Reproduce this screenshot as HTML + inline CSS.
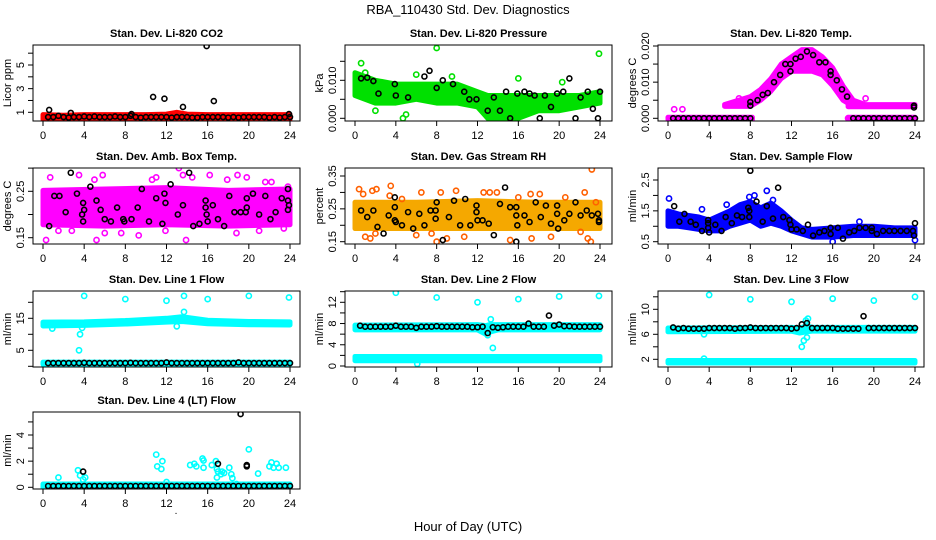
<!DOCTYPE html>
<html><head><meta charset="utf-8"><style>
html,body{margin:0;padding:0;background:#fff;}
svg{display:block;font-family:"Liberation Sans",Arial,sans-serif;}
</style></head><body>
<svg id="chart" width="936" height="540" viewBox="0 0 936 540" xmlns="http://www.w3.org/2000/svg">
<rect width="936" height="540" fill="#fff"/>
<text x="468" y="14" text-anchor="middle" font-size="13">RBA_110430  Std. Dev. Diagnostics</text>
<text x="468" y="531" text-anchor="middle" font-size="13">Hour of Day (UTC)</text>
<text x="176" y="514" text-anchor="middle" font-size="10">.</text>
<g id="panels"></g>
</svg>
<script>
const halfHours=[0.5,1,1.5,2,2.5,3,3.5,4,4.5,5,5.5,6,6.5,7,7.5,8,8.5,9,9.5,10,10.5,11,11.5,12,12.5,13,13.5,14,14.5,15,15.5,16,16.5,17,17.5,18,18.5,19,19.5,20,20.5,21,21.5,22,22.5,23,23.5,24];
const xTickHours=[0,4,8,12,16,20,24];

// Panel 1 CO2
const p1BandT=[0,2,4,6,8,10,12,13,14,16,18,20,22,24];
const p1BandLo=[0.4,0.4,0.4,0.4,0.4,0.4,0.4,0.4,0.4,0.4,0.4,0.4,0.4,0.4];
const p1BandHi=[0.8,0.75,0.8,0.8,0.8,0.8,0.85,1.0,0.85,0.8,0.8,0.8,0.8,0.8];
const p1BlackV=[0.6,0.6,0.7,0.6,0.55,0.6,0.6,0.65,0.6,0.65,0.6,0.6,0.6,0.65,0.6,0.6,0.7,0.6,0.55,0.6,0.6,0.6,0.6,0.6,0.55,0.6,0.6,0.6,0.55,0.55,0.6,0.6,0.6,0.6,0.6,0.55,0.6,0.55,0.6,0.6,0.6,0.6,0.6,0.55,0.6,0.55,0.6,0.6];
const p1OutBlackT=[0.6,2.7,8.6,10.7,11.8,13.6,15.9,16.6,23.9];
const p1OutBlackV=[1.2,0.95,0.85,2.3,2.15,1.45,6.6,1.95,0.85];

// Panel 2 Pressure
const p2BandT=[0,2,4,6,8,10,12,13,14,16,18,20,22,24];
const p2BandLo=[0.006,0.004,0.004,0.005,0.004,0.004,0.003,0.0,0.0,0.0,0.002,0.002,0.003,0.004];
const p2BandHi=[0.012,0.010,0.009,0.009,0.009,0.009,0.007,0.006,0.006,0.006,0.006,0.006,0.006,0.007];
const p2OutT=[0.6,8,23.9,16,2,4.7,5,0.3,1,20.3,9.5,6];
const p2OutV=[0.0145,0.0185,0.017,0.0105,0.002,0.0,0.001,0.011,0.012,0.0095,0.011,0.0115];
const p2BlackT=[0.6,1.2,1.8,2.3,3.9,4,5.2,6.8,7.3,8,8.6,9.6,10.7,11.2,11.9,13,13.6,14.2,14.8,15.2,15.9,16.6,17.1,17.6,18.1,18.6,19.2,19.8,20.4,21,21.6,22.1,22.8,23.3,23.8,24];
const p2BlackV=[0.0105,0.0107,0.0098,0.0065,0.009,0.006,0.0055,0.011,0.0125,0.008,0.010,0.009,0.007,0.005,0.005,0.002,0.0055,0.002,0.007,0.0,0.0065,0.007,0.0065,0.006,0.0,0.006,0.003,0.0065,0.007,0.0105,0.0,0.0055,0.007,0.0025,0.0,0.007];

// Panel 3 Li-820 Temp
const p3ArcT=[5.5,8,9,10,11,12,13,14,15,16,17,18,19];
const p3ArcLo=[0.0033,0.0033,0.005,0.0075,0.011,0.013,0.013,0.013,0.012,0.009,0.005,0.0033,0.0033];
const p3ArcHi=[0.0038,0.006,0.008,0.011,0.015,0.017,0.019,0.019,0.017,0.014,0.009,0.005,0.004];
const p3ZeroT=[0,8.2,17.5,24];
const p3ZeroLo=[-0.0003,-0.0003,-0.0003,-0.0003];
const p3ZeroHi=[0.0003,0.0003,0.0003,0.0003];
const p3ShelfT=[17.5,24];
const p3ShelfLo=[0.0032,0.0032];
const p3ShelfHi=[0.0038,0.0038];
const p3OutT=[0.6,1.4,6.9,19.2,17.5];
const p3OutV=[0.0025,0.0025,0.0055,0.0055,0.0];
const p3BlackT=[0.5,1,1.5,2,2.5,3,3.5,4,4.5,5,5.5,6,6.5,7,7.5,8,18,18.5,19,19.5,20,20.5,21,21.5,22,22.5,23,23.5,24,8,8,8.7,9.2,9.7,10.3,10.9,11.4,11.9,11.9,12.4,12.9,13.5,14.1,14.7,15.3,15.8,15.8,16.4,16.9,17.4,23.9,23.9];
const p3BlackV=[0,0,0,0,0,0,0,0,0,0,0,0,0,0,0,0,0,0,0,0,0,0,0,0,0,0,0,0,0,0.0045,0.0035,0.005,0.0065,0.007,0.010,0.012,0.015,0.015,0.013,0.0165,0.017,0.0185,0.0175,0.0155,0.0155,0.013,0.012,0.0105,0.008,0.006,0.0035,0.003];

// Panel 4 Amb Box Temp
const p4BandT=[0,6,12,18,24];
const p4BandLo=[0.178,0.175,0.178,0.175,0.178];
const p4BandHi=[0.252,0.255,0.258,0.252,0.255];
const p4OutT=[0.3,0.7,1.5,2.8,3.5,5.2,5.8,6.3,6,7.6,9.3,10.6,11,11.9,13.2,13.9,13.6,14.5,16.2,17.9,18.8,18.9,19.8,21,21.6,22.2,23.4,23.8,0.9,5];
const p4OutV=[0.145,0.28,0.165,0.165,0.285,0.145,0.285,0.31,0.16,0.16,0.155,0.275,0.28,0.165,0.30,0.145,0.285,0.28,0.285,0.275,0.16,0.285,0.28,0.165,0.27,0.27,0.17,0.26,0.22,0.275];
const p4BlackT=[0.6,1.1,1.6,2.2,2.7,3.3,3.9,3.8,4,3.9,4.6,5.2,5.6,6,6.6,7.2,7.8,7.9,8.6,9.2,9.6,10.3,11,11.6,11.8,11.9,12.4,13.1,13.6,14.2,14.6,15.2,15.8,15.8,15.9,16,16.5,17,17.6,18.1,18.6,19.2,19.7,19.8,19.8,20.4,21,21.6,22.1,22.6,23.2,23.8,23.8,23.9,23.8];
const p4BlackV=[0.175,0.24,0.24,0.205,0.29,0.245,0.225,0.2,0.21,0.185,0.26,0.23,0.21,0.19,0.185,0.215,0.19,0.185,0.19,0.215,0.255,0.185,0.235,0.18,0.245,0.225,0.265,0.2,0.22,0.29,0.175,0.18,0.23,0.215,0.2,0.185,0.22,0.19,0.175,0.24,0.205,0.205,0.205,0.215,0.235,0.245,0.2,0.24,0.19,0.205,0.235,0.255,0.23,0.22,0.21];

// Panel 5 Gas Stream RH
const p5BandT=[0,6,12,18,24];
const p5BandLo=[0.19,0.19,0.19,0.19,0.19];
const p5BandHi=[0.27,0.27,0.275,0.27,0.27];
const p5OutT=[0.4,0.8,1,1.5,1.7,2.1,2,3.5,3.4,4.6,6,6.5,7.5,8,8.4,9,9.9,10.7,12.6,13.2,13.9,15.2,16,17.3,17.2,18.1,19.2,20.6,22.1,22.5,22.8,23.2,23.1,23.6];
const p5OutV=[0.31,0.295,0.165,0.16,0.305,0.31,0.175,0.32,0.29,0.28,0.17,0.30,0.175,0.15,0.30,0.16,0.305,0.165,0.30,0.30,0.30,0.155,0.285,0.16,0.295,0.295,0.165,0.285,0.18,0.30,0.16,0.37,0.15,0.27];
const p5BlackT=[0.6,1.2,1.8,2.2,2.8,3.3,3.9,3.9,3.9,4,4.6,5.2,5.7,6.3,6.8,7.4,7.9,7.9,8,8.6,9.2,9.7,10.3,10.8,11.3,11.9,11.9,12,12.5,13.1,13.6,14.2,14.7,15.2,15.8,15.8,15.9,15.8,16.6,17.1,17.7,18.2,18.7,19.2,19.8,19.8,19.9,20.5,21,21.6,22.1,22.7,23.2,23.8,23.9,23.9];
const p5BlackV=[0.245,0.225,0.245,0.195,0.175,0.23,0.285,0.255,0.215,0.21,0.2,0.24,0.19,0.235,0.2,0.245,0.245,0.22,0.27,0.155,0.225,0.275,0.2,0.28,0.2,0.26,0.24,0.215,0.215,0.205,0.17,0.265,0.315,0.255,0.255,0.23,0.2,0.15,0.23,0.21,0.27,0.225,0.26,0.205,0.26,0.235,0.19,0.215,0.235,0.27,0.23,0.245,0.23,0.235,0.215,0.21];

// Panel 6 Sample Flow
const p6BandT=[0,1,2,3,4,5,6,7,8,9,10,11,12,13,14,16,18,20,22,24];
const p6BandLo=[1.0,1.0,0.95,0.9,0.85,0.85,1.0,1.1,1.2,1.0,1.1,1.0,0.85,0.75,0.65,0.65,0.7,0.7,0.7,0.7];
const p6BandHi=[1.5,1.4,1.35,1.3,1.2,1.35,1.5,1.7,1.8,1.6,1.75,1.5,1.2,0.95,0.9,0.95,1.0,1.0,0.95,0.95];
const p6OutT=[0.1,0.1,3.3,5.7,7.9,8.4,9.6,10.2,16,18.6,24,8.8,0.5];
const p6OutV=[1.9,1.45,1.55,1.7,1.95,2.0,2.15,1.85,0.5,1.15,0.55,1.15,1.05];
const p6BlackT=[0.6,1.1,1.6,2.2,2.7,3.3,3.9,3.9,3.9,4,4.6,5.2,5.6,6.2,6.7,7.2,7.8,7.9,7.9,8,8.6,9.2,9.6,10.2,10.7,11.2,11.8,11.9,12,12.5,13.1,13.6,14.1,14.7,15.2,15.8,15.8,16.5,17,17.6,18.1,18.6,19.2,19.8,19.8,20.3,20.9,21.5,22,22.6,23.2,23.8,23.9,24];
const p6BlackV=[1.65,1.15,1.4,1.15,1.05,0.85,1.2,1.1,0.95,0.8,1.05,0.85,1.3,1.1,1.35,1.3,1.6,1.5,1.3,2.8,1.8,1.15,1.65,1.25,2.25,1.3,1.2,1.05,0.9,0.9,0.85,1.05,0.7,0.8,0.85,0.95,0.75,0.95,0.6,0.8,0.85,0.95,0.95,0.95,0.85,0.75,0.85,0.85,0.85,0.85,0.85,0.85,0.7,1.1];

// Panel 7 Line 1 Flow
const p7UpT=[0,4,8,12,13.5,16,20,24];
const p7UpLo=[12.6,12.8,13.2,13.8,14.0,13.3,13.0,12.9];
const p7UpHi=[13.8,13.9,14.3,15.0,15.5,14.4,14.0,13.9];
const p7LoT=[0,24];
const p7LoLo=[0.6,0.6];
const p7LoHi=[1.3,1.3];
const p7OutT=[4,8,12,13.7,16,20,23.9,3.5,3.6,3.8,13.7,13,0.9];
const p7OutV=[22,21,20.5,22,21,22,21.5,5,10,12,17,12.5,11.8];
const p7BlackV=[1,1,1,1,1,1,1,1.1,1,1,1,1,1,1,1,1,1.1,1,1,1,1,1,1,1.2,1,1,1,1,1,1,1,1,1,1,1,1,1,1.2,1,1,1,1,1,1,1,1,1,1];

// Panel 8 Line 2 Flow
const p8UpT=[0,12,12.8,13.2,14,24];
const p8UpLo=[6.8,6.8,6.0,6.4,6.8,6.8];
const p8UpHi=[7.7,7.8,7.6,7.8,7.8,7.8];
const p8LoT=[0,24];
const p8LoLo=[1.0,1.0];
const p8LoHi=[1.8,1.8];
const p8OutT=[4,8,12,16,20,23.9,6.1,13.5,13,13.3];
const p8OutV=[13.8,12.9,12,12.6,13.1,13.2,0.4,3.4,5.8,8.8];
const p8BlackV=[7.6,7.4,7.4,7.4,7.4,7.4,7.4,7.6,7.4,7.4,7.4,7.2,7.4,7.4,7.4,7.5,7.4,7.4,7.4,7.4,7.4,7.4,7.3,7.3,7.4,6.2,7.3,7.2,7.3,7.4,7.4,7.4,7.4,8.0,7.4,7.4,7.4,9.5,7.6,7.8,7.5,7.5,7.4,7.4,7.4,7.4,7.4,7.4];

// Panel 9 Line 3 Flow
const p9UpT=[0,12,12.8,13.5,14,24];
const p9UpLo=[6.4,6.5,6.2,6.4,6.5,6.5];
const p9UpHi=[7.0,7.1,7.0,7.4,7.1,7.1];
const p9LoT=[0,24];
const p9LoLo=[1.4,1.4];
const p9LoHi=[1.8,1.8];
const p9OutT=[4,8,12,16,20,24,13,13.2,13.6,13.5,3.5,3.5,13.4];
const p9OutV=[12.3,11.6,11.2,11.7,11.4,12,4.0,5.0,8.5,5.5,6,2.1,8.2];
const p9BlackV=[7.1,6.9,7.0,6.9,6.9,6.9,6.9,7.0,7.0,7.0,7.0,7.0,6.9,7.0,7.0,7.1,7.0,7.0,7.0,7.0,7.0,7.0,7.0,6.9,7.0,7.6,7.8,7.0,7.0,7.0,7.0,7.0,6.9,6.9,6.9,6.9,6.9,8.9,7.0,7.0,7.0,7.0,7.0,7.0,7.0,7.0,7.0,7.0];

// Panel 10 Line 4 (LT) Flow
const p10BandT=[0,24];
const p10BandLo=[-0.05,-0.05];
const p10BandHi=[0.25,0.25];
const p10OutT=[1.5,3.4,3.6,3.9,4.1,11,11.1,11.6,11.5,12,14.3,14.7,14.9,15.5,15.6,15.6,16.4,16.8,16.9,17,16.9,17.3,17.4,17.6,18.1,18.3,18.4,18.8,20,20.9,22,22.2,22.4,22.7,22.9,23.6];
const p10OutV=[0.75,1.3,0.9,0.6,0.75,2.5,1.6,2.0,1.4,0.4,1.7,1.8,1.6,2.2,2.05,1.5,1.7,2.0,1.4,1.2,0.75,1.0,1.2,1.1,1.5,1.0,0.7,0.25,2.9,1.05,1.6,1.9,1.5,1.8,1.5,1.5];
const p10BlackV=[0.1,0.1,0.1,0.1,0.1,0.1,0.1,0.1,0.1,0.1,0.1,0.1,0.1,0.1,0.1,0.1,0.1,0.1,0.1,0.1,0.1,0.1,0.1,0.1,0.1,0.1,0.1,0.1,0.1,0.1,0.1,0.1,0.1,0.1,0.1,0.1,0.1,0.1,0.1,0.1,0.1,0.1,0.1,0.1,0.1,0.1,0.1,0.1];
const p10OutBlackT=[3.9,17,19.2,19.8,19.8];
const p10OutBlackV=[1.2,1.8,5.6,1.7,1.6];

const NS="http://www.w3.org/2000/svg";
const root=document.getElementById('panels');
function mk(tag,attrs,parent){const e=document.createElementNS(NS,tag);for(const k in attrs)e.setAttribute(k,attrs[k]);(parent||root).appendChild(e);return e;}

const panels=[
 {name:'co2',title:'Stan. Dev. Li-820 CO2',ylab:'Licor ppm',box:[33,45,300,121],x0:43,x24:290,vA:1,pA:112.3,vB:5,pB:65,ticks:[1,2,3,4,5,6],labels:[1,3,5],fmt:v=>String(v),col:'#ff0000',
  bands:[[p1BandT,p1BandLo,p1BandHi]],outs:[],blacks:[[halfHours,p1BlackV],[p1OutBlackT,p1OutBlackV]]},
 {name:'pressure',title:'Stan. Dev. Li-820 Pressure',ylab:'kPa',box:[345,45,612,121],x0:355,x24:600,vA:0,pA:118.3,vB:0.01,pB:80.3,ticks:[0,0.005,0.01,0.015],labels:[0,0.01],fmt:v=>v.toFixed(3),col:'#00e000',
  bands:[[p2BandT,p2BandLo,p2BandHi]],outs:[[p2OutT,p2OutV]],blacks:[[p2BlackT,p2BlackV]]},
 {name:'li820-temp',title:'Stan. Dev. Li-820 Temp.',ylab:'degrees C',box:[658,45,924,121],x0:668,x24:915,vA:0,pA:118.3,vB:0.02,pB:46,ticks:[0,0.005,0.01,0.015,0.02],labels:[0,0.01,0.02],fmt:v=>v.toFixed(3),col:'#ff00ff',
  bands:[[p3ArcT,p3ArcLo,p3ArcHi],[p3ZeroT.slice(0,2),p3ZeroLo.slice(0,2),p3ZeroHi.slice(0,2)],[p3ZeroT.slice(2),p3ZeroLo.slice(2),p3ZeroHi.slice(2)],[p3ShelfT,p3ShelfLo,p3ShelfHi]],outs:[[p3OutT,p3OutV]],blacks:[[p3BlackT,p3BlackV]]},
 {name:'amb-box-temp',title:'Stan. Dev. Amb. Box Temp.',ylab:'degrees C',box:[33,168,300,244],x0:43,x24:290,vA:0.15,pA:237.7,vB:0.25,pB:191.3,ticks:[0.15,0.2,0.25,0.3],labels:[0.15,0.25],fmt:v=>v.toFixed(2),col:'#ff00ff',
  bands:[[p4BandT,p4BandLo,p4BandHi]],outs:[[p4OutT,p4OutV]],blacks:[[p4BlackT,p4BlackV]]},
 {name:'gas-stream-rh',title:'Stan. Dev. Gas Stream RH',ylab:'percent',box:[345,168,612,244],x0:355,x24:600,vA:0.15,pA:241.7,vB:0.35,pB:176,ticks:[0.15,0.2,0.25,0.3,0.35],labels:[0.15,0.25,0.35],fmt:v=>v.toFixed(2),col:'#f5a800',outCol:'#ff6000',
  bands:[[p5BandT,p5BandLo,p5BandHi]],outs:[[p5OutT,p5OutV]],blacks:[[p5BlackT,p5BlackV]]},
 {name:'sample-flow',title:'Stan. Dev. Sample Flow',ylab:'ml/min',box:[658,168,924,244],x0:668,x24:915,vA:0.5,pA:241.7,vB:2.5,pB:180,ticks:[0.5,1,1.5,2,2.5],labels:[0.5,1.5,2.5],fmt:v=>v.toFixed(1),col:'#0000ff',
  bands:[[p6BandT,p6BandLo,p6BandHi]],outs:[[p6OutT,p6OutV]],blacks:[[p6BlackT,p6BlackV]]},
 {name:'line1-flow',title:'Stan. Dev. Line 1 Flow',ylab:'ml/min',box:[33,291,300,367],x0:43,x24:290,vA:0,pA:366.3,vB:20,pB:302.3,ticks:[0,5,10,15,20],labels:[5,15],fmt:v=>String(v),col:'#00ffff',
  bands:[[p7UpT,p7UpLo,p7UpHi],[p7LoT,p7LoLo,p7LoHi]],outs:[[p7OutT,p7OutV]],blacks:[[halfHours,p7BlackV]]},
 {name:'line2-flow',title:'Stan. Dev. Line 2 Flow',ylab:'ml/min',box:[345,291,612,367],x0:355,x24:600,vA:0,pA:366,vB:12,pB:302.3,ticks:[0,2,4,6,8,10,12,14],labels:[0,4,8,12],fmt:v=>String(v),col:'#00ffff',
  bands:[[p8UpT,p8UpLo,p8UpHi],[p8LoT,p8LoLo,p8LoHi]],outs:[[p8OutT,p8OutV]],blacks:[[halfHours,p8BlackV]]},
 {name:'line3-flow',title:'Stan. Dev. Line 3 Flow',ylab:'ml/min',box:[658,291,924,367],x0:668,x24:915,vA:2,pA:359.3,vB:10,pB:309.3,ticks:[2,4,6,8,10,12],labels:[2,6,10],fmt:v=>String(v),col:'#00ffff',
  bands:[[p9UpT,p9UpLo,p9UpHi],[p9LoT,p9LoLo,p9LoHi]],outs:[[p9OutT,p9OutV]],blacks:[[halfHours,p9BlackV]]},
 {name:'line4-flow',title:'Stan. Dev. Line 4 (LT) Flow',ylab:'ml/min',box:[33,412,300,489],x0:43,x24:290,vA:0,pA:487.3,vB:4,pB:435,ticks:[0,1,2,3,4,5],labels:[0,2,4],fmt:v=>String(v),col:'#00ffff',
  bands:[[p10BandT,p10BandLo,p10BandHi]],outs:[[p10OutT,p10OutV]],blacks:[[halfHours,p10BlackV],[p10OutBlackT,p10OutBlackV]]}
];

panels.forEach(p=>{
  const g=mk('g',{});
  
  
  const [L,T,R,B]=p.box;
  const xs=t=>p.x0+t*(p.x24-p.x0)/24;
  const ys=v=>p.pA+(v-p.vA)*(p.pB-p.pA)/(p.vB-p.vA);
  const tt=mk('text',{x:(L+R)/2,y:T-8,'text-anchor':'middle','font-size':'11','font-weight':'bold'},g);
  tt.textContent=p.title;
  
  
  const cid='clip-'+p.name;
  const cp=mk('clipPath',{id:cid},g);mk('rect',{x:L,y:T,width:R-L,height:B-T},cp);
  const pg=mk('g',{'clip-path':'url(#'+cid+')'},g);
  p.bands.forEach(([bt,lo,hi])=>{
    let pts=bt.map((t,i)=>xs(t)+','+ys(hi[i]));
    for(let i=bt.length-1;i>=0;i--)pts.push(xs(bt[i])+','+ys(lo[i]));
    const poly=mk('polygon',{points:pts.join(' '),fill:p.col,stroke:p.col,'stroke-width':5,'stroke-linejoin':'round'},pg);
    
    
  });
  p.outs.forEach(([ot,ov])=>{
    ot.forEach((t,i)=>{
      const c=mk('circle',{cx:xs(t),cy:ys(ov[i]),r:2.6,fill:'none',stroke:p.outCol||p.col,'stroke-width':1.6},pg);
      
      
    });
  });
  p.blacks.forEach(([bt,bv])=>{
    bt.forEach((t,i)=>{
      const c=mk('circle',{cx:xs(t),cy:ys(bv[i]),r:2.5,fill:'none',stroke:'#000','stroke-width':1.6},pg);
      
      
    });
  });
  const bx=mk('rect',{x:L,y:T,width:R-L,height:B-T,fill:'none',stroke:'#000','stroke-width':1},g);
  
  
  const xa=mk('g',{},g);
  
  
  mk('line',{x1:xs(0),x2:xs(24),y1:B,y2:B,stroke:'#000'},xa);
  xTickHours.forEach(h=>{
    mk('line',{x1:xs(h),x2:xs(h),y1:B,y2:B+5,stroke:'#000'},xa);
    const tl=mk('text',{x:xs(h),y:B+18,'text-anchor':'middle','font-size':'11'},xa);
    tl.textContent=h;
  });
  const ya=mk('g',{},g);
  
  
  mk('line',{x1:L,x2:L,y1:ys(p.ticks[0]),y2:ys(p.ticks[p.ticks.length-1]),stroke:'#000'},ya);
  p.ticks.forEach(v=>mk('line',{x1:L-5,x2:L,y1:ys(v),y2:ys(v),stroke:'#000'},ya));
  p.labels.forEach(v=>{
    const yl=mk('text',{x:0,y:0,'text-anchor':'middle','font-size':'11',transform:`translate(${L-9},${ys(v)}) rotate(-90)`},ya);
    yl.textContent=p.fmt(v);
  });
  const yt=mk('text',{x:0,y:0,'text-anchor':'middle','font-size':'11',transform:`translate(${L-22},${(T+B)/2}) rotate(-90)`},g);
  yt.textContent=p.ylab;
  
  
});
</script>
</body></html>
